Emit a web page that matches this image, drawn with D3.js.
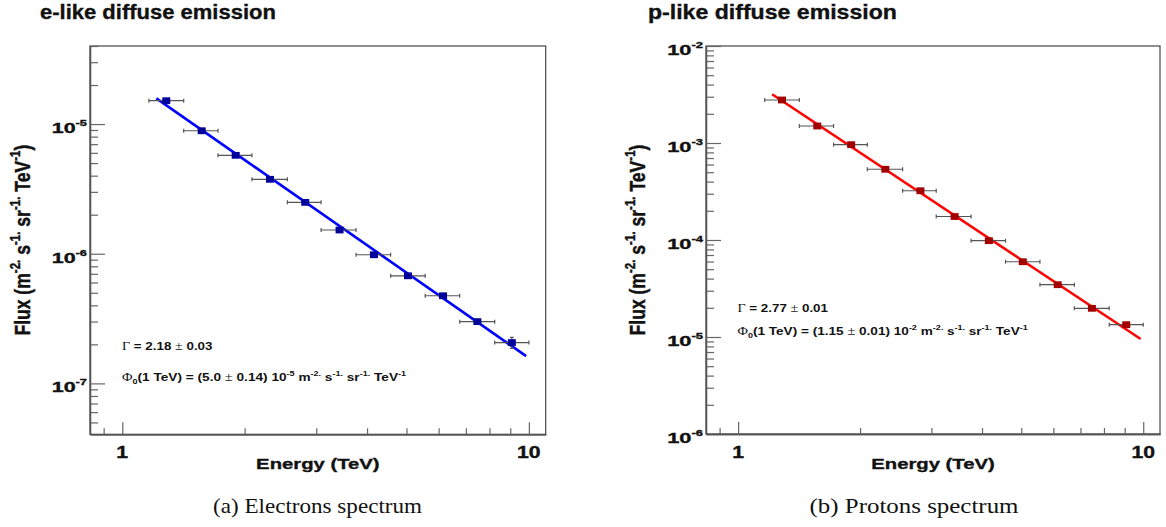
<!DOCTYPE html>
<html><head><meta charset="utf-8">
<script src="https://cdn.jsdelivr.net/npm/d3@7"></script>
<style>
body{margin:0;background:#fff;}
svg{display:block;font-family:"Liberation Sans",Arial,Helvetica,sans-serif;}
.heavy{stroke:#111;stroke-width:0.35px;paint-order:stroke;}
</style>
</head><body>
<svg id="chart" width="1166" height="527"></svg>
<script>
// ---------------- data ----------------
const energies = [1.283, 1.568, 1.901, 2.309, 2.818, 3.423, 4.159, 5.043, 6.151, 7.47, 9.08];
const binEdges = [1.163, 1.416, 1.720, 2.084, 2.547, 3.083, 3.758, 4.571, 5.559, 6.761, 8.241, 10.0];

const electronFlux    = [1.514e-5, 8.88e-6, 5.74e-6, 3.75e-6, 2.49e-6, 1.524e-6, 9.82e-7, 6.76e-7, 4.74e-7, 2.995e-7, 2.065e-7];
const electronFluxErr = [1.5e-7, 9e-8, 6e-8, 4e-8, 3e-8, 2e-8, 1.5e-8, 1.2e-8, 1.3e-8, 1.7e-8, 2.0e-8];
const electronFitE    = [1.213, 9.847];
const electronFitF    = [1.578e-5, 1.625e-7];

const protonFlux      = [2.776e-3, 1.497e-3, 9.61e-4, 5.36e-4, 3.22e-4, 1.746e-4, 9.84e-5, 5.97e-5, 3.46e-5, 1.976e-5, 1.34e-5];
const protonFluxErr   = [2e-5, 1.2e-5, 8e-6, 5e-6, 3e-6, 1.8e-6, 1.1e-6, 7e-7, 4.5e-7, 3e-7, 2.5e-7];
const protonFitE      = [1.213, 9.854];
const protonFitF      = [3.18e-3, 9.54e-6];

const xTickValues  = [1, 10];
const xTickLabels  = ["1", "10"];
const leftYExponents  = [-7, -6, -5];
const rightYExponents = [-6, -5, -4, -3, -2];

const titles   = ["e-like diffuse emission", "p-like diffuse emission"];
const captions = ["(a) Electrons spectrum", "(b) Protons spectrum"];
const gammaText = [["2.18", "0.03"], ["2.77", "0.01"]];
const phiText   = [["5.0", "0.14", "-5"], ["1.15", "0.01", "-2"]];

// ---------------- helpers ----------------
const svg = d3.select("#chart");
const SANS = '"Liberation Sans",Arial,Helvetica,sans-serif';
const SERIF = '"Liberation Serif","Times New Roman",serif';

function fitX(text, x, target) {
  const w = text.node().getBBox().width;
  const sx = target / w;
  text.attr("transform", `translate(${x},0) scale(${sx},1) translate(${-x},0)`);
}

// segments: [text, kind] kind: n (bold sans), s (serif symbol), sup, sub
function rich(text, segs, size) {
  let off = 0;
  segs.forEach(([t, kind]) => {
    let target = 0, fs = size, fam = SANS, fw = "bold";
    if (kind === "sup") { target = -size * 0.45; fs = size * 0.66; }
    if (kind === "sub") { target = size * 0.25; fs = size * 0.66; }
    if (kind === "s") { fam = SERIF; fw = "normal"; fs = size * 1.05; }
    text.append("tspan")
      .attr("dy", target - off)
      .style("font-size", fs + "px")
      .style("font-family", fam)
      .style("font-weight", fw)
      .text(t);
    off = target;
  });
  return text;
}

const xDomain = [0.833, 11.0];

const panels = [
  { x0: 90, x1: 545.7, y0: 46, y1: 434.3, yDomain: [4.05e-8, 4.0e-5],
    flux: electronFlux, err: electronFluxErr, fitE: electronFitE, fitF: electronFitF,
    exps: leftYExponents, line: "#0000ff", marker: "#00009a",
    title: titles[0], caption: captions[0], gamma: gammaText[0], phi: phiText[0],
    titleX: 40, titleW: 236, ytW: 35.5, yLabelX: 30, capX: 317.5,
    gY: 350, phiY: 381.5, annX: 122, gW: 91, phiW: 285 },
  { x0: 706, x1: 1160, y0: 46, y1: 434, yDomain: [1e-6, 1e-2],
    flux: protonFlux, err: protonFluxErr, fitE: protonFitE, fitF: protonFitF,
    exps: rightYExponents, line: "#ff0000", marker: "#a30000",
    title: titles[1], caption: captions[1], gamma: gammaText[1], phi: phiText[1],
    titleX: 648, titleW: 249, ytW: 36, yLabelX: 645, capX: 914,
    gY: 312.5, phiY: 335.5, annX: 737.5, gW: 91, phiW: 291 }
];

panels.forEach(p => {
  const x = d3.scaleLog().domain(xDomain).range([p.x0, p.x1]);
  const y = d3.scaleLog().domain(p.yDomain).range([p.y1, p.y0]);
  const g = svg.append("g");

  // frame
  g.append("rect").attr("x", p.x0).attr("y", p.y0)
    .attr("width", p.x1 - p.x0).attr("height", p.y1 - p.y0)
    .attr("fill", "none").attr("stroke", "#444").attr("stroke-width", 1.2);

  // y ticks (inward)
  const lo = Math.floor(Math.log10(p.yDomain[0])), hi = Math.ceil(Math.log10(p.yDomain[1]));
  const majors = p.exps.map(e => Math.pow(10, e));
  const minors = [];
  for (let k = lo; k < hi; k++) for (let m = 2; m <= 9; m++) {
    const v = m * Math.pow(10, k);
    if (v >= p.yDomain[0] && v <= p.yDomain[1]) minors.push(v);
  }
  const styleAxis = s => { s.select(".domain").attr("stroke", "#555").attr("stroke-width", 1.3);
    s.selectAll(".tick line").attr("stroke", "#666").attr("stroke-width", 1.2); };
  g.append("g").attr("transform", `translate(${p.x0},0)`)
    .call(d3.axisRight(y).tickValues(minors).tickSize(8).tickSizeOuter(0).tickFormat(""))
    .call(styleAxis);
  g.append("g").attr("transform", `translate(${p.x0},0)`)
    .call(d3.axisRight(y).tickValues(majors).tickSize(15).tickSizeOuter(0).tickFormat(""))
    .call(styleAxis);

  // x ticks (inward)
  const xMinors = [0.9, 2, 3, 4, 5, 6, 7, 8, 9];
  g.append("g").attr("transform", `translate(0,${p.y1})`)
    .call(d3.axisTop(x).tickValues(xMinors).tickSize(6).tickSizeOuter(0).tickFormat(""))
    .call(styleAxis);
  g.append("g").attr("transform", `translate(0,${p.y1})`)
    .call(d3.axisTop(x).tickValues(xTickValues).tickSize(12).tickSizeOuter(0).tickFormat(""))
    .call(styleAxis);

  // y tick labels
  p.exps.forEach(e => {
    const v = Math.pow(10, e);
    const t = g.append("text").attr("x", p.x0 - 3).attr("y", y(v) + 9)
      .attr("text-anchor", "end").attr("fill", "#111").attr("class", "heavy");
    t.append("tspan").style("font-size", "14.8px").style("font-weight", "bold").text("10");
    t.append("tspan").attr("dy", -7).style("font-size", "8.8px").style("font-weight", "bold").text(String(e));
    fitX(t, p.x0 - 3, p.ytW);
  });

  // x tick labels
  xTickValues.forEach((v, i) => {
    const t = g.append("text").attr("x", x(v)).attr("y", 458.3)
      .attr("text-anchor", "middle").attr("fill", "#111").attr("class", "heavy")
      .style("font-size", "16.3px").style("font-weight", "bold").text(xTickLabels[i]);
    t.attr("transform", `translate(${x(v)},0) scale(1.3,1) translate(${-x(v)},0)`);
  });

  // x axis label
  const xc = (p.x0 + p.x1) / 2;
  const xl = g.append("text").attr("x", xc).attr("y", 469.5).attr("text-anchor", "middle")
    .attr("fill", "#111").attr("class", "heavy")
    .style("font-size", "15.5px").style("font-weight", "bold").text("Energy (TeV)");
  fitX(xl, xc, 123.5);

  // y axis label (rotated)
  const yc = (p.y0 + p.y1) / 2;
  const yg = g.append("g").attr("transform", `translate(${p.yLabelX},${yc}) rotate(-90)`);
  const yl = yg.append("text").attr("x", 0).attr("y", 0).attr("text-anchor", "middle")
    .attr("fill", "#111").attr("class", "heavy");
  rich(yl, [["Flux (m","n"],["-2.","sup"],[" s","n"],["-1.","sup"],[" sr","n"],["-1.","sup"],[" TeV","n"],["-1","sup"],[")","n"]], 17);
  const yw = yl.node().getBBox().width;
  yl.attr("transform", `scale(${191 / yw},1.3)`);

  // title
  const tt = g.append("text").attr("x", p.titleX).attr("y", 19.5).attr("fill", "#111")
    .attr("class", "heavy")
    .style("font-size", "20px").style("font-weight", "bold").text(p.title);
  fitX(tt, p.titleX, p.titleW);

  // annotations
  const ga = g.append("text").attr("x", p.annX).attr("y", p.gY).attr("fill", "#111");
  rich(ga, [["\u0393","s"],[" = " + p.gamma[0] + " ","n"],["\u00b1","s"],[" " + p.gamma[1],"n"]], 11.8);
  fitX(ga, p.annX, p.gW);
  const pa = g.append("text").attr("x", p.annX).attr("y", p.phiY).attr("fill", "#111");
  rich(pa, [["\u03a6","s"],["0","sub"],["(1 TeV) = (" + p.phi[0] + " ","n"],["\u00b1","s"],
            [" " + p.phi[1] + ") 10","n"],[p.phi[2],"sup"],[" m","n"],["-2.","sup"],[" s","n"],
            ["-1.","sup"],[" sr","n"],["-1.","sup"],[" TeV","n"],["-1","sup"]], 11.8);
  fitX(pa, p.annX, p.phiW);

  // fit line
  const fitPts = p.fitE.map((e, i) => [e, p.fitF[i]]);
  g.append("path").datum(fitPts)
    .attr("d", d3.line().x(d => x(d[0])).y(d => y(d[1])))
    .attr("fill", "none").attr("stroke", p.line).attr("stroke-width", 2.6);

  // error bars
  const eb = g.append("g").attr("stroke", "#555").attr("stroke-width", 1.2);
  energies.forEach((e, i) => {
    const cy = y(p.flux[i]);
    const xl0 = x(binEdges[i]), xr0 = x(binEdges[i + 1]);
    eb.append("line").attr("x1", xl0).attr("x2", xr0).attr("y1", cy).attr("y2", cy);
    eb.append("line").attr("x1", xl0).attr("x2", xl0).attr("y1", cy - 2).attr("y2", cy + 2);
    eb.append("line").attr("x1", xr0).attr("x2", xr0).attr("y1", cy - 2).attr("y2", cy + 2);
    const yt = y(p.flux[i] + p.err[i]), yb = y(p.flux[i] - p.err[i]);
    if (cy - yt > 3.2) {
      const cx = x(e);
      eb.append("line").attr("x1", cx).attr("x2", cx).attr("y1", yt).attr("y2", yb);
      eb.append("line").attr("x1", cx - 2).attr("x2", cx + 2).attr("y1", yt).attr("y2", yt);
      eb.append("line").attr("x1", cx - 2).attr("x2", cx + 2).attr("y1", yb).attr("y2", yb);
    }
  });

  // markers
  g.append("g").selectAll("rect").data(energies).join("rect")
    .attr("x", d => x(d) - 4).attr("y", (d, i) => y(p.flux[i]) - 3.4)
    .attr("width", 8).attr("height", 6.8).attr("fill", p.marker);

  // caption
  const cap = svg.append("text").attr("x", p.capX).attr("y", 513).attr("text-anchor", "middle")
    .attr("fill", "#111").style("font-family", SERIF).style("font-size", "22px").text(p.caption);
  fitX(cap, p.capX, 209);
});
</script>
</body></html>
